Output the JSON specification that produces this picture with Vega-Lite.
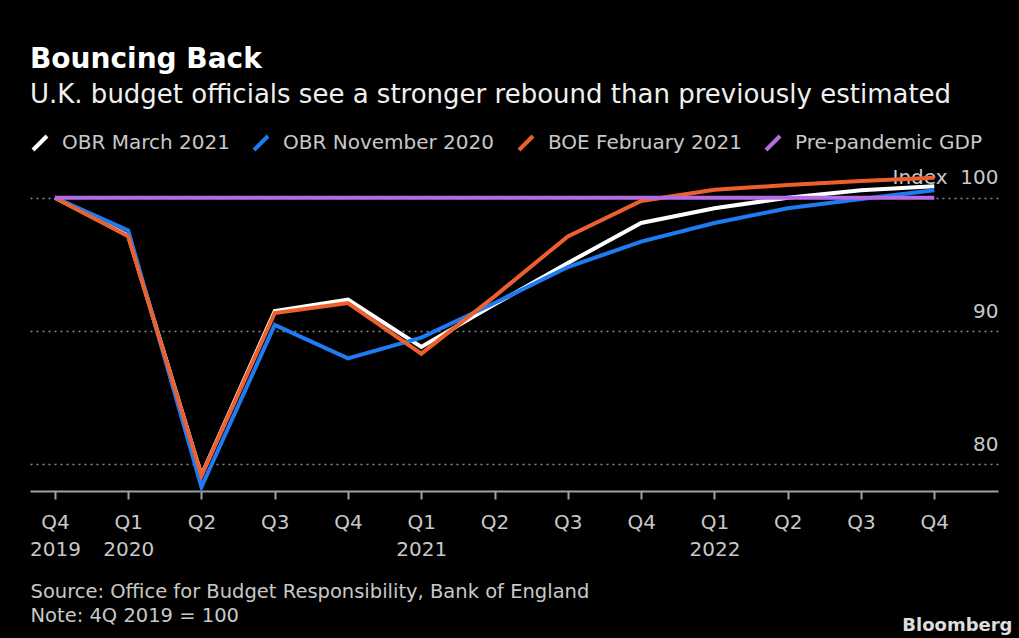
{
  "$schema": "https://vega.github.io/schema/vega-lite/v6.json",
  "width": 968,
  "height": 316,
  "autosize": {"type": "none"},
  "padding": {"left": 30, "top": 175, "right": 21, "bottom": 147},
  "background": "#000000",
  "title": {
    "text": "Bouncing Back",
    "subtitle": "U.K. budget officials see a stronger rebound than previously estimated",
    "anchor": "start",
    "frame": "group",
    "font": "DejaVu Sans",
    "fontSize": 28,
    "fontWeight": "bold",
    "color": "#ffffff",
    "subtitleFont": "DejaVu Sans",
    "subtitleFontSize": 26,
    "subtitleColor": "#f0f0f0",
    "subtitlePadding": 8,
    "offset": 25
  },
  "data": {
    "values": [
      {"series": "OBR March 2021", "t": 0, "v": 100},
      {"series": "OBR March 2021", "t": 1, "v": 97.15},
      {"series": "OBR March 2021", "t": 2, "v": 79.2},
      {"series": "OBR March 2021", "t": 3, "v": 91.5},
      {"series": "OBR March 2021", "t": 4, "v": 92.35},
      {"series": "OBR March 2021", "t": 5, "v": 88.8},
      {"series": "OBR March 2021", "t": 6, "v": 92.0},
      {"series": "OBR March 2021", "t": 7, "v": 95.1},
      {"series": "OBR March 2021", "t": 8, "v": 98.1},
      {"series": "OBR March 2021", "t": 9, "v": 99.2},
      {"series": "OBR March 2021", "t": 10, "v": 100.0},
      {"series": "OBR March 2021", "t": 11, "v": 100.55},
      {"series": "OBR March 2021", "t": 12, "v": 100.85},
      {"series": "OBR November 2020", "t": 0, "v": 100},
      {"series": "OBR November 2020", "t": 1, "v": 97.55},
      {"series": "OBR November 2020", "t": 2, "v": 78.3},
      {"series": "OBR November 2020", "t": 3, "v": 90.45},
      {"series": "OBR November 2020", "t": 4, "v": 87.95},
      {"series": "OBR November 2020", "t": 5, "v": 89.5},
      {"series": "OBR November 2020", "t": 6, "v": 92.1},
      {"series": "OBR November 2020", "t": 7, "v": 94.8},
      {"series": "OBR November 2020", "t": 8, "v": 96.7},
      {"series": "OBR November 2020", "t": 9, "v": 98.1},
      {"series": "OBR November 2020", "t": 10, "v": 99.2},
      {"series": "OBR November 2020", "t": 11, "v": 99.9},
      {"series": "OBR November 2020", "t": 12, "v": 100.55},
      {"series": "BOE February 2021", "t": 0, "v": 100},
      {"series": "BOE February 2021", "t": 1, "v": 97.1},
      {"series": "BOE February 2021", "t": 2, "v": 79.15},
      {"series": "BOE February 2021", "t": 3, "v": 91.35},
      {"series": "BOE February 2021", "t": 4, "v": 92.1},
      {"series": "BOE February 2021", "t": 5, "v": 88.3},
      {"series": "BOE February 2021", "t": 6, "v": 92.6},
      {"series": "BOE February 2021", "t": 7, "v": 97.1},
      {"series": "BOE February 2021", "t": 8, "v": 99.75},
      {"series": "BOE February 2021", "t": 9, "v": 100.6},
      {"series": "BOE February 2021", "t": 10, "v": 100.95},
      {"series": "BOE February 2021", "t": 11, "v": 101.25},
      {"series": "BOE February 2021", "t": 12, "v": 101.5},
      {"series": "Pre-pandemic GDP", "t": 0, "v": 100},
      {"series": "Pre-pandemic GDP", "t": 1, "v": 100},
      {"series": "Pre-pandemic GDP", "t": 2, "v": 100},
      {"series": "Pre-pandemic GDP", "t": 3, "v": 100},
      {"series": "Pre-pandemic GDP", "t": 4, "v": 100},
      {"series": "Pre-pandemic GDP", "t": 5, "v": 100},
      {"series": "Pre-pandemic GDP", "t": 6, "v": 100},
      {"series": "Pre-pandemic GDP", "t": 7, "v": 100},
      {"series": "Pre-pandemic GDP", "t": 8, "v": 100},
      {"series": "Pre-pandemic GDP", "t": 9, "v": 100},
      {"series": "Pre-pandemic GDP", "t": 10, "v": 100},
      {"series": "Pre-pandemic GDP", "t": 11, "v": 100},
      {"series": "Pre-pandemic GDP", "t": 12, "v": 100}
    ]
  },
  "mark": {"type": "line", "strokeWidth": 4, "strokeJoin": "miter"},
  "encoding": {
    "x": {
      "field": "t",
      "type": "quantitative",
      "scale": {"domain": [-0.34, 12.87], "nice": false, "zero": false},
      "axis": {
        "values": [0, 1, 2, 3, 4, 5, 6, 7, 8, 9, 10, 11, 12],
        "labelExpr": "[['Q4','2019'],['Q1','2020'],['Q2'],['Q3'],['Q4'],['Q1','2021'],['Q2'],['Q3'],['Q4'],['Q1','2022'],['Q2'],['Q3'],['Q4']][datum.value]",
        "grid": false,
        "domainColor": "#a0a0a0",
        "domainWidth": 2,
        "tickColor": "#a0a0a0",
        "tickWidth": 2,
        "tickSize": 8,
        "labelFont": "DejaVu Sans",
        "labelFontSize": 20,
        "labelColor": "#c8c8c8",
        "labelLineHeight": 27,
        "labelPadding": 13,
        "labelBaseline": "top",
        "labelFlush": false,
        "labelOverlap": false,
        "title": ["Source: Office for Budget Responsibility, Bank of England", "Note: 4Q 2019 = 100"],
        "titleAnchor": "start",
        "titleAlign": "left",
        "titleFont": "DejaVu Sans",
        "titleFontSize": 19.5,
        "titleFontWeight": "normal",
        "titleColor": "#c8c8c8",
        "titleLineHeight": 24,
        "titlePadding": 23
      }
    },
    "y": {
      "field": "v",
      "type": "quantitative",
      "scale": {"domain": [78, 101.7], "nice": false, "zero": false},
      "axis": {
        "orient": "right",
        "values": [80, 90, 100],
        "labelExpr": "datum.value == 100 ? 'Index\u00a0\u00a0100' : datum.label",
        "domain": false,
        "ticks": false,
        "tickSize": 0,
        "labelAlign": "right",
        "labelPadding": 0,
        "labelBaseline": "alphabetic",
        "labelOffset": -14,
        "labelFont": "DejaVu Sans",
        "labelFontSize": 20,
        "labelColor": "#c8c8c8",
        "grid": true,
        "gridColor": "#8a8a8a",
        "gridDash": [2, 4],
        "gridWidth": 1.5,
        "title": "Bloomberg",
        "titleAngle": 0,
        "titleAlign": "right",
        "titleBaseline": "alphabetic",
        "titleX": 14,
        "titleY": 455,
        "titleFont": "DejaVu Sans",
        "titleFontWeight": "bold",
        "titleFontSize": 18,
        "titleColor": "#dddddd"
      }
    },
    "color": {
      "field": "series",
      "type": "nominal",
      "scale": {
        "domain": ["OBR March 2021", "OBR November 2020", "BOE February 2021", "Pre-pandemic GDP"],
        "range": ["#ffffff", "#1f7bf2", "#ec5f2e", "#b56be3"]
      },
      "legend": {
        "orient": "top",
        "direction": "horizontal",
        "title": null,
        "symbolType": "M-1,1L1,-1",
        "symbolSize": 196,
        "symbolStrokeWidth": 4,
        "labelFont": "DejaVu Sans",
        "labelFontSize": 20,
        "labelColor": "#c8c8c8",
        "labelOffset": 12,
        "columnPadding": 16,
        "offset": 11,
        "padding": 0,
        "labelLimit": 400
      }
    }
  },
  "config": {"view": {"stroke": null}}
}
